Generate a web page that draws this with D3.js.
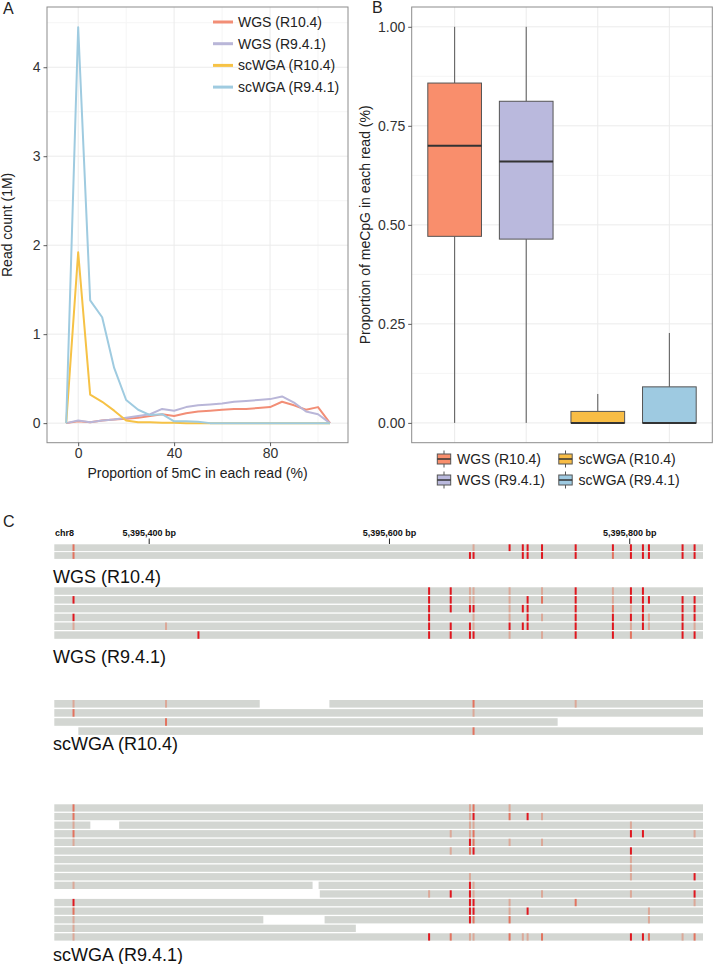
<!DOCTYPE html>
<html>
<head>
<meta charset="utf-8">
<script src="https://cdn.jsdelivr.net/npm/d3@7"></script>
<style>
  body { margin: 0; background: #fff; }
  svg { display: block; font-family: "Liberation Sans", Arial, sans-serif; }
</style>
</head>
<body>
<div id="chart"></div>
<script>
// ---------- panel A: read count vs 5mC proportion ----------
const seriesNames = ["WGS (R10.4)", "WGS (R9.4.1)", "scWGA (R10.4)", "scWGA (R9.4.1)"];
const seriesColors = ["#f28e76", "#b9b6d8", "#f6c246", "#9fcbe0"];
const boxColors = ["#f98e6c", "#bab9dd", "#f8bd45", "#9ecae1"];

const bins = [-5, 0, 5, 10, 15, 20, 25, 30, 35, 40, 45, 50, 55, 60, 65, 70, 75, 80, 85, 90, 95, 100, 105];
const wgsR104 = [0, 0.02, 0.01, 0.03, 0.04, 0.05, 0.06, 0.08, 0.1, 0.08, 0.11, 0.13, 0.14, 0.15, 0.16, 0.16, 0.17, 0.18, 0.24, 0.2, 0.15, 0.18, 0];
const wgsR941 = [0, 0.03, 0.01, 0.03, 0.04, 0.06, 0.08, 0.1, 0.16, 0.14, 0.18, 0.2, 0.21, 0.22, 0.24, 0.25, 0.26, 0.27, 0.3, 0.23, 0.13, 0.1, 0];
const scwgaR104 = [0, 1.92, 0.32, 0.24, 0.14, 0.03, 0.01, 0.01, 0.005, 0.005, 0, 0, 0, 0, 0, 0, 0, 0, 0, 0, 0, 0, 0];
const scwgaR941 = [0, 4.45, 1.38, 1.19, 0.62, 0.26, 0.15, 0.09, 0.1, 0.02, 0.02, 0.015, 0, 0, 0, 0, 0, 0, 0, 0, 0, 0, 0];
const lineSeries = [wgsR104, wgsR941, scwgaR104, scwgaR941];

const aXTicks = [0, 40, 80];
const aXMinor = [20, 60, 100];
const aYTicks = [0, 1, 2, 3, 4];
const aYMinor = [0.5, 1.5, 2.5, 3.5, 4.5];

// ---------- panel B: boxplots ----------
const boxLow = [0, 0, 0, 0];
const boxQ1 = [0.471, 0.464, 0, 0];
const boxMedian = [0.70, 0.66, 0, 0];
const boxQ3 = [0.858, 0.812, 0.029, 0.091];
const boxHigh = [1, 1, 0.073, 0.227];
const bYTicks = [0, 0.25, 0.5, 0.75, 1];
const bYMinor = [0.125, 0.375, 0.625, 0.875];

// ---------- panel C: IGV-like read view ----------
const genomeTicks = [5395400, 5395600, 5395800];
const cpgSites = [5395337, 5395414, 5395441, 5395633, 5395651, 5395667, 5395670, 5395700, 5395711,
  5395715, 5395727, 5395755, 5395786, 5395801, 5395811, 5395816, 5395844, 5395854];

const trackNames = ["WGS (R10.4)", "WGS (R9.4.1)", "scWGA (R10.4)", "scWGA (R9.4.1)"];
// reads per row: list of [start, end] in bp
const readsWgsR104 = [
  [[5395321, 5395861]],
  [[5395321, 5395861]]
];
const readsWgsR941 = [
  [[5395321, 5395861]], [[5395321, 5395861]], [[5395321, 5395861]],
  [[5395321, 5395861]], [[5395321, 5395861]], [[5395321, 5395861]]
];
const readsScwgaR104 = [
  [[5395321, 5395492], [5395550, 5395861]],
  [[5395321, 5395861]],
  [[5395321, 5395740]],
  [[5395341, 5395861]]
];
const readsScwgaR941 = [
  [[5395321, 5395861]],
  [[5395321, 5395861]],
  [[5395321, 5395351], [5395375, 5395861]],
  [[5395321, 5395861]],
  [[5395321, 5395861]],
  [[5395321, 5395861]],
  [[5395321, 5395861]],
  [[5395321, 5395861]],
  [[5395321, 5395861]],
  [[5395321, 5395536], [5395541, 5395861]],
  [[5395542, 5395861]],
  [[5395321, 5395861]],
  [[5395321, 5395861]],
  [[5395321, 5395495], [5395546, 5395861]],
  [[5395321, 5395572]],
  [[5395321, 5395861]]
];
// methylation calls: [row, cpg site index, level 1..3]
const callsWgsR104 = [
  [0,0,2],[0,6,1],[0,7,3],[0,8,3],[0,9,3],[0,10,3],[0,11,3],[0,12,3],[0,13,3],[0,14,3],[0,15,3],[0,16,3],[0,17,3],
  [1,0,2],[1,5,3],[1,6,3],[1,8,3],[1,9,3],[1,10,3],[1,11,3],[1,12,2],[1,13,3],[1,14,3],[1,15,3],[1,16,3],[1,17,3]
];
const callsWgsR941 = [
  [0,3,3],[0,4,3],[0,5,1],[0,6,1],[0,7,1],[0,10,1],[0,11,3],[0,12,1],[0,13,3],[0,14,3],
  [1,0,3],[1,3,3],[1,4,3],[1,5,1],[1,6,1],[1,7,1],[1,9,3],[1,10,2],[1,11,3],[1,12,1],[1,13,3],[1,14,3],[1,15,3],[1,16,3],[1,17,3],
  [2,3,3],[2,4,3],[2,5,3],[2,6,3],[2,7,1],[2,8,3],[2,9,3],[2,11,3],[2,12,2],[2,13,1],[2,14,3],[2,16,3],[2,17,3],
  [3,0,3],[3,3,3],[3,6,1],[3,7,1],[3,9,3],[3,10,1],[3,11,3],[3,12,3],[3,13,3],[3,14,3],[3,15,1],[3,16,3],[3,17,3],
  [4,0,1],[4,1,1],[4,3,3],[4,4,3],[4,5,3],[4,6,1],[4,7,3],[4,8,3],[4,9,3],[4,11,3],[4,12,3],[4,13,1],[4,14,3],[4,15,1],[4,16,3],[4,17,1],
  [5,2,3],[5,3,3],[5,4,3],[5,5,3],[5,6,3],[5,7,1],[5,10,1],[5,11,3],[5,12,3],[5,13,2],[5,16,3],[5,17,3]
];
const callsScwgaR104 = [
  [0,0,1],[0,1,1],[0,6,2],[0,11,1],
  [1,0,2],[1,6,1],
  [2,1,2],
  [3,6,2]
];
const callsScwgaR941 = [
  [0,0,2],[0,5,1],[0,6,2],[0,7,1],
  [1,0,2],[1,5,1],[1,6,3],[1,7,2],[1,9,3],[1,10,1],
  [2,0,1],[2,5,1],[2,6,1],[2,13,1],
  [3,0,2],[3,4,1],[3,5,1],[3,6,2],[3,13,3],[3,14,3],[3,17,1],
  [4,0,1],[4,5,3],[4,6,2],[4,7,1],[4,10,1],
  [5,4,1],[5,5,2],[5,6,3],[5,13,3],
  [6,13,1],
  [7,13,1],
  [8,5,1],[8,13,1],[8,17,3],
  [9,0,1],[9,5,3],[9,6,1],
  [10,3,1],[10,4,3],[10,5,3],[10,6,1],[10,10,1],[10,13,1],[10,17,3],
  [11,0,3],[11,5,3],[11,6,3],[11,7,1],[11,11,2],[11,17,1],
  [12,0,2],[12,5,3],[12,6,3],[12,7,1],[12,9,3],[12,15,1],
  [13,0,1],[13,5,3],[13,6,2],[13,7,2],[13,15,1],
  [14,0,1],
  [15,0,1],[15,3,3],[15,4,2],[15,5,1],[15,6,1],[15,7,2],[15,8,1],[15,9,1],[15,10,2],[15,13,3],[15,14,3],[15,15,2],[15,16,1],[15,17,2]
];

const W = 725, H = 964;
const svg = d3.select("#chart").append("svg")
  .attr("width", W).attr("height", H);
svg.append("rect").attr("width", W).attr("height", H).attr("fill", "#fff");

const GRID_MAJOR = "#ebebeb";
const GRID_MINOR = "#f5f5f5";
const TEXT = "#222";

function panelLetter(txt, x, y) {
  svg.append("text").attr("x", x).attr("y", y)
    .attr("font-size", 16).attr("fill", TEXT).text(txt);
}

function styleAxis(g) {
  g.select(".domain").remove();
  g.selectAll(".tick line").attr("stroke", "#333").attr("stroke-width", 0.8);
  g.selectAll(".tick text").attr("font-size", 14).attr("fill", "#333");
}

// ================= panel A =================
{
  const left = 47, right = 348, top = 7, bottom = 442.7;
  const x = d3.scaleLinear().domain([-13, 112.5]).range([left, right]);
  const y = d3.scaleLinear().domain([-0.22, 4.677]).range([bottom, top]);

  const g = svg.append("g");
  g.selectAll(".gxm").data(aXMinor).join("line")
    .attr("x1", d => x(d)).attr("x2", d => x(d)).attr("y1", top).attr("y2", bottom)
    .attr("stroke", GRID_MINOR);
  g.selectAll(".gym").data(aYMinor).join("line")
    .attr("y1", d => y(d)).attr("y2", d => y(d)).attr("x1", left).attr("x2", right)
    .attr("stroke", GRID_MINOR);
  g.selectAll(".gx").data(aXTicks).join("line")
    .attr("x1", d => x(d)).attr("x2", d => x(d)).attr("y1", top).attr("y2", bottom)
    .attr("stroke", GRID_MAJOR);
  g.selectAll(".gy").data(aYTicks).join("line")
    .attr("y1", d => y(d)).attr("y2", d => y(d)).attr("x1", left).attr("x2", right)
    .attr("stroke", GRID_MAJOR);

  const line = d3.line().x((d, i) => x(bins[i])).y(d => y(d));
  lineSeries.forEach((s, i) => {
    g.append("path").datum(s)
      .attr("d", line)
      .attr("fill", "none")
      .attr("stroke", seriesColors[i])
      .attr("stroke-width", 2)
      .attr("stroke-linejoin", "round");
  });

  g.append("rect").attr("x", left).attr("y", top)
    .attr("width", right - left).attr("height", bottom - top)
    .attr("fill", "none").attr("stroke", "#8c8c8c").attr("stroke-width", 1);

  g.append("g").attr("transform", `translate(0,${bottom})`)
    .call(d3.axisBottom(x).tickValues(aXTicks).tickSize(3.5).tickPadding(2))
    .call(styleAxis);
  g.append("g").attr("transform", `translate(${left},0)`)
    .call(d3.axisLeft(y).tickValues(aYTicks).tickFormat(d3.format("d")).tickSize(3.5).tickPadding(3))
    .call(styleAxis);

  g.append("text").attr("x", (left + right) / 2).attr("y", 478)
    .attr("text-anchor", "middle").attr("font-size", 14).attr("fill", TEXT)
    .text("Proportion of 5mC in each read (%)");
  g.append("text")
    .attr("transform", `translate(12,${(top + bottom) / 2}) rotate(-90)`)
    .attr("text-anchor", "middle").attr("font-size", 14).attr("fill", TEXT)
    .text("Read count (1M)");

  // legend
  const lg = g.append("g").attr("transform", "translate(213,22)");
  seriesNames.forEach((name, i) => {
    lg.append("line").attr("x1", 0).attr("x2", 20)
      .attr("y1", i * 21.7).attr("y2", i * 21.7)
      .attr("stroke", seriesColors[i]).attr("stroke-width", 3);
    lg.append("text").attr("x", 25).attr("y", i * 21.7).attr("dy", "0.35em")
      .attr("font-size", 14).attr("fill", TEXT).text(name);
  });
  panelLetter("A", 3, 13.5);
}

// ================= panel B =================
{
  const left = 411.7, right = 712.3, top = 7, bottom = 442.7;
  const x = d3.scaleBand().domain(seriesNames).range([left, right])
    .paddingInner(0.25).paddingOuter(0.225);
  const y = d3.scaleLinear().domain([-0.05, 1.05]).range([bottom, top]);

  const g = svg.append("g");
  g.selectAll(".gym").data(bYMinor).join("line")
    .attr("y1", d => y(d)).attr("y2", d => y(d)).attr("x1", left).attr("x2", right)
    .attr("stroke", GRID_MINOR);
  g.selectAll(".gy").data(bYTicks).join("line")
    .attr("y1", d => y(d)).attr("y2", d => y(d)).attr("x1", left).attr("x2", right)
    .attr("stroke", GRID_MAJOR);
  g.selectAll(".gx").data(seriesNames).join("line")
    .attr("x1", d => x(d) + x.bandwidth() / 2).attr("x2", d => x(d) + x.bandwidth() / 2)
    .attr("y1", top).attr("y2", bottom)
    .attr("stroke", GRID_MAJOR);

  seriesNames.forEach((name, i) => {
    const cx = x(name) + x.bandwidth() / 2;
    g.append("line").attr("x1", cx).attr("x2", cx)
      .attr("y1", y(boxHigh[i])).attr("y2", y(boxQ3[i]))
      .attr("stroke", "#555").attr("stroke-width", 1);
    g.append("line").attr("x1", cx).attr("x2", cx)
      .attr("y1", y(boxQ1[i])).attr("y2", y(boxLow[i]))
      .attr("stroke", "#555").attr("stroke-width", 1);
    g.append("rect").attr("x", x(name)).attr("width", x.bandwidth())
      .attr("y", y(boxQ3[i])).attr("height", y(boxQ1[i]) - y(boxQ3[i]))
      .attr("fill", boxColors[i]).attr("stroke", "#555").attr("stroke-width", 1);
    g.append("line").attr("x1", x(name)).attr("x2", x(name) + x.bandwidth())
      .attr("y1", y(boxMedian[i])).attr("y2", y(boxMedian[i]))
      .attr("stroke", "#333").attr("stroke-width", 2);
  });

  g.append("rect").attr("x", left).attr("y", top)
    .attr("width", right - left).attr("height", bottom - top)
    .attr("fill", "none").attr("stroke", "#8c8c8c").attr("stroke-width", 1);

  g.append("g").attr("transform", `translate(${left},0)`)
    .call(d3.axisLeft(y).tickValues(bYTicks).tickFormat(d3.format(".2f")).tickSize(3.5).tickPadding(3))
    .call(styleAxis);

  g.append("text")
    .attr("transform", `translate(370,${(top + bottom) / 2}) rotate(-90)`)
    .attr("text-anchor", "middle").attr("font-size", 14).attr("fill", TEXT)
    .text("Proportion of meCpG in each read (%)");

  // legend (2 columns, column-major order)
  const colX = [444, 565.5];
  const rowY = [459, 480];
  seriesNames.forEach((name, i) => {
    const cx = colX[Math.floor(i / 2)], cy = rowY[i % 2];
    const kg = g.append("g").attr("transform", `translate(${cx},${cy})`);
    kg.append("line").attr("x1", 0).attr("x2", 0).attr("y1", -8.5).attr("y2", 8.5)
      .attr("stroke", "#555");
    kg.append("rect").attr("x", -6.7).attr("y", -5).attr("width", 13.4).attr("height", 10)
      .attr("fill", boxColors[i]).attr("stroke", "#555");
    kg.append("line").attr("x1", -6.7).attr("x2", 6.7).attr("y1", 0).attr("y2", 0)
      .attr("stroke", "#333").attr("stroke-width", 1.5);
    g.append("text").attr("x", cx + 13).attr("y", cy).attr("dy", "0.35em")
      .attr("font-size", 14).attr("fill", TEXT).text(name);
  });
  panelLetter("B", 372, 12.5);
}

// ================= panel C =================
{
  const gx = d3.scaleLinear().domain([5395321, 5395861]).range([54.3, 703]);
  const g = svg.append("g");
  panelLetter("C", 3, 526.5);

  g.append("text").attr("x", 55).attr("y", 536)
    .attr("font-size", 9).attr("font-weight", "bold").attr("fill", "#111").text("chr8");
  const fmt = d3.format(",");
  g.selectAll(".gt").data(genomeTicks).join("line")
    .attr("x1", d => gx(d)).attr("x2", d => gx(d)).attr("y1", 538.5).attr("y2", 544)
    .attr("stroke", "#222").attr("stroke-width", 1);
  g.selectAll(".gtl").data(genomeTicks).join("text")
    .attr("x", d => gx(d)).attr("y", 536)
    .attr("text-anchor", "middle").attr("font-size", 9).attr("font-weight", "bold")
    .attr("fill", "#111").text(d => fmt(d) + " bp");

  const level = d3.scaleOrdinal().domain([1, 2, 3]).range(["#dba898", "#e2735f", "#e0171f"]);

  const tracks = [
    { reads: readsWgsR104, calls: callsWgsR104, top: 544.3, pitch: 7.8, h: 6.8, labelY: 583 },
    { reads: readsWgsR941, calls: callsWgsR941, top: 587.3, pitch: 8.8, h: 7.5, labelY: 663 },
    { reads: readsScwgaR104, calls: callsScwgaR104, top: 700, pitch: 9.1, h: 7.6, labelY: 750 },
    { reads: readsScwgaR941, calls: callsScwgaR941, top: 804.3, pitch: 8.6, h: 7.3, labelY: 961 }
  ];

  tracks.forEach((t, ti) => {
    const tg = g.append("g");
    t.reads.forEach((segs, r) => {
      tg.selectAll(null).data(segs).join("rect")
        .attr("x", d => gx(d[0])).attr("width", d => gx(d[1]) - gx(d[0]))
        .attr("y", t.top + r * t.pitch).attr("height", t.h)
        .attr("fill", "#d3d6d2");
    });
    tg.selectAll(".call").data(t.calls).join("rect")
      .attr("x", d => gx(cpgSites[d[1]]) - 1)
      .attr("width", 2)
      .attr("y", d => t.top + d[0] * t.pitch)
      .attr("height", t.h)
      .attr("fill", d => level(d[2]));
    tg.append("text").attr("x", 53).attr("y", t.labelY)
      .attr("font-size", 18).attr("fill", "#111").text(trackNames[ti]);
  });
}
</script>
</body>
</html>
